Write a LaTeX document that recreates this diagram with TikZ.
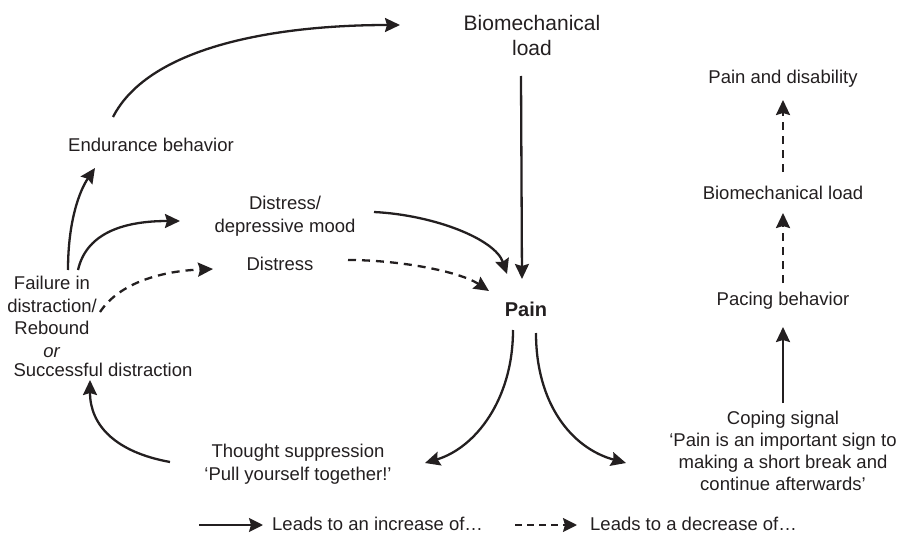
\documentclass[tikz,border=0pt]{standalone}
\usepackage{fontspec}
\setmainfont{Liberation Sans}
\usetikzlibrary{arrows.meta,calc}
\definecolor{ink}{HTML}{231F20}
\begin{document}
\begin{tikzpicture}[x=1pt,y=-1pt,
  lbl/.style={inner sep=0pt, align=center, text=ink, font=\fontsize{18.5}{22.5}\selectfont},
  link/.style={draw=ink, line width=2.3pt, -{Stealth[length=15pt,width=14pt,inset=2pt]}},
  inc/.style={link},
  dec/.style={link, dash pattern=on 8pt off 6pt},
  keyarrow/.style={draw=ink, line width=2pt, -{Stealth[length=14pt,width=14pt,inset=2pt]}},
]
\useasboundingbox (0,0) rectangle (903,535);

% nodes
\node[lbl, font=\fontsize{21}{25}\selectfont] (bio) at (532,35) {Biomechanical\\load};
\node[lbl, font=\fontsize{20}{24}\selectfont\bfseries] (pain) at (526,309) {Pain};
\node[lbl] (endur) at (151,145) {Endurance behavior};
\node[lbl] (dmood) at (285,216) {Distress/\\depressive mood};
\node[lbl] (distress) at (280,264) {Distress};
\node[lbl] (fail) at (52,317) {Failure in\\distraction/\\Rebound\\\textit{or}};
\node[lbl] (succ) at (103,370) {Successful distraction};
\node[lbl] (thought) at (298,464) {Thought suppression\\`Pull yourself together!'};
\node[lbl, font=\fontsize{18.5}{22}\selectfont] (coping) at (783,451) {Coping signal\\`Pain is an important sign to\\making a short break and\\continue afterwards'};
\node[lbl] (pacing) at (783,301) {Pacing behavior};
\node[lbl] (bio2) at (783,193) {Biomechanical load};
\node[lbl] (pd) at (783,79) {Pain and disability};

% connectors of the left loop
\draw[inc] ([shift={(-38,-28)}]endur.center) .. controls +(37,-72) and +(-120,0) .. ([shift={(-132,-10)}]bio.center);
\draw[inc] ([shift={(16,-47)}]fail.center) .. controls +(0,-50) and +(-15,22) .. ([shift={(-56,23)}]endur.center);
\draw[inc] ([shift={(26,-47)}]fail.center) .. controls +(8,-35) and +(-60,0) .. ([shift={(-105,5)}]dmood.center);
\draw[dec] ([shift={(48,-5)}]fail.center) .. controls +(20,-30) and +(-50,2) .. ([shift={(-67,5)}]distress.center);
\draw[inc] ([shift={(-128,-2)}]thought.center) .. controls +(-55,-10) and +(0,45) .. ([shift={(-13,10)}]succ.center);

% connectors into and out of pain
\draw[inc] ([shift={(-11,41)}]bio.center) -- ([shift={(-4,-30)}]pain.center);
\draw[inc] ([shift={(89,-4)}]dmood.center) .. controls +(60,3) and +(-12,-35) .. ([shift={(-19,-35)}]pain.center);
\draw[dec] ([shift={(68,-4)}]distress.center) .. controls +(50,0) and +(-30,-20) .. ([shift={(-37,-18)}]pain.center);
\draw[inc] ([shift={(-13,21)}]pain.center) .. controls +(0,70) and +(50,-15) .. ([shift={(127,-1)}]thought.center);
\draw[inc] ([shift={(10,24)}]pain.center) .. controls +(0,70) and +(-55,-15) .. ([shift={(-157,12)}]coping.center);

% pacing column
\draw[inc] ([shift={(0,-48)}]coping.center) -- ([shift={(0,26)}]pacing.center);
\draw[dec] ([shift={(0,-18)}]pacing.center) -- ([shift={(0,20)}]bio2.center);
\draw[dec] ([shift={(0,-21)}]bio2.center) -- ([shift={(0,21)}]pd.center);

% key
\node[lbl, anchor=west] (keyinc) at (272,524) {Leads to an increase of…};
\node[lbl, anchor=west] (keydec) at (590,524) {Leads to a decrease of…};
\coordinate (keyincstart) at (199,525);
\coordinate (keydecstart) at (515,525);
\draw[keyarrow] (keyincstart) -- ([shift={(-9,1)}]keyinc.west);
\draw[keyarrow, dash pattern=on 7pt off 5pt] (keydecstart) -- ([shift={(-13,1)}]keydec.west);
\end{tikzpicture}
\end{document}
